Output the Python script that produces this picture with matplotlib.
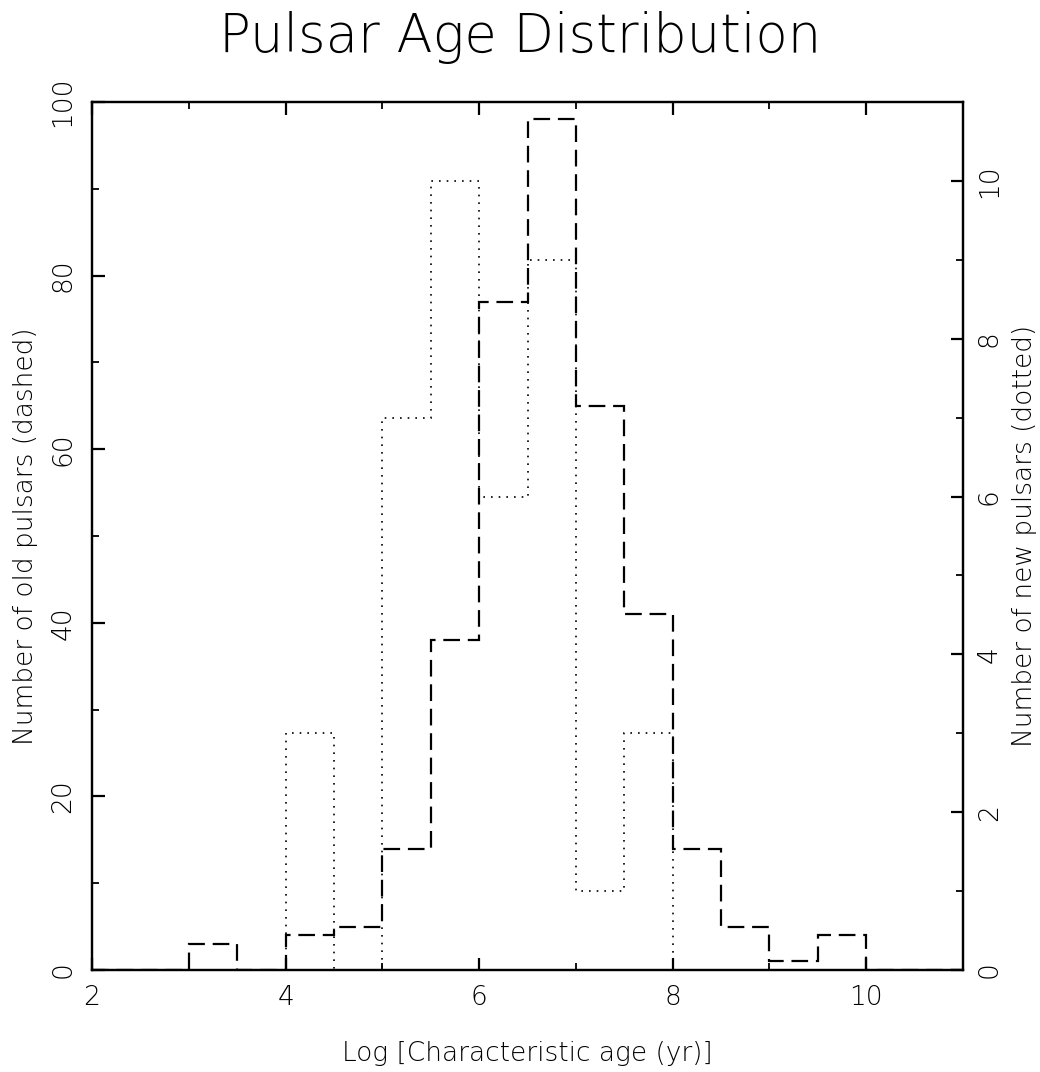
import numpy as np
import matplotlib
matplotlib.use("Agg")
import matplotlib.pyplot as plt
from matplotlib.ticker import MultipleLocator

plt.rcParams['font.family'] = ['DejaVu Sans']
plt.rcParams['font.weight'] = 200
plt.rcParams['axes.labelweight'] = 200
plt.rcParams['figure.titleweight'] = 200

# bin edges of log characteristic age (yr)
edges = np.arange(2.0, 11.01, 0.5)
# counts per bin
old_pulsars = [0, 0, 3, 0, 4, 5, 14, 38, 77, 98, 65, 41, 14, 5, 1, 4, 0, 0]
new_pulsars = [0, 0, 0, 0, 3, 0, 7, 10, 6, 9, 1, 3, 0, 0, 0, 0, 0, 0]

fig = plt.figure(figsize=(10.4, 10.72), dpi=100)
ax = fig.add_axes([0.0885, 0.0951, 0.8375, 0.8098])
ax2 = ax.twinx()

ax.stairs(old_pulsars, edges, baseline=0, color='black', linewidth=1.6,
          linestyle=(0, (7.5, 3.5)))
ax2.stairs(new_pulsars, edges, baseline=0, color='black', linewidth=1.2,
           linestyle=(0, (1, 3.6)))

ax.set_xlim(2, 11)
ax.set_ylim(0, 100)
ax2.set_ylim(0, 11)

ax.xaxis.set_major_locator(MultipleLocator(2))
ax.xaxis.set_minor_locator(MultipleLocator(1))
ax.yaxis.set_major_locator(MultipleLocator(20))
ax.yaxis.set_minor_locator(MultipleLocator(10))
ax2.yaxis.set_major_locator(MultipleLocator(2))
ax2.yaxis.set_minor_locator(MultipleLocator(1))

for a in (ax, ax2):
    for s in a.spines.values():
        s.set_linewidth(1.6)

ax.tick_params(axis='x', which='both', direction='in', top=True, labelsize=19, pad=11)
ax.tick_params(axis='x', which='major', length=9, width=1.6)
ax.tick_params(axis='x', which='minor', length=5, width=1.3)
ax.tick_params(axis='y', which='both', direction='in', right=False, labelsize=19,
               labelrotation=90, pad=12)
ax.tick_params(axis='y', which='major', length=9, width=1.6)
ax.tick_params(axis='y', which='minor', length=5, width=1.3)
ax2.tick_params(axis='y', which='both', direction='in', labelsize=19,
                labelrotation=90, pad=10)
ax2.tick_params(axis='y', which='major', length=9, width=1.6)
ax2.tick_params(axis='y', which='minor', length=5, width=1.3)
for lab in ax.get_yticklabels():
    lab.set_va('center')
for lab in ax2.get_yticklabels():
    lab.set_va('center')

ax.set_xlabel('Log [Characteristic age (yr)]', fontsize=19, labelpad=22)
ax.set_ylabel('Number of old pulsars (dashed)', fontsize=19, labelpad=9)
ax2.set_ylabel('Number of new pulsars (dotted)', fontsize=19, rotation=90, labelpad=7)
fig.suptitle('Pulsar Age Distribution', fontsize=38, y=0.99, va='top')

fig.savefig('out.png', dpi=100)
